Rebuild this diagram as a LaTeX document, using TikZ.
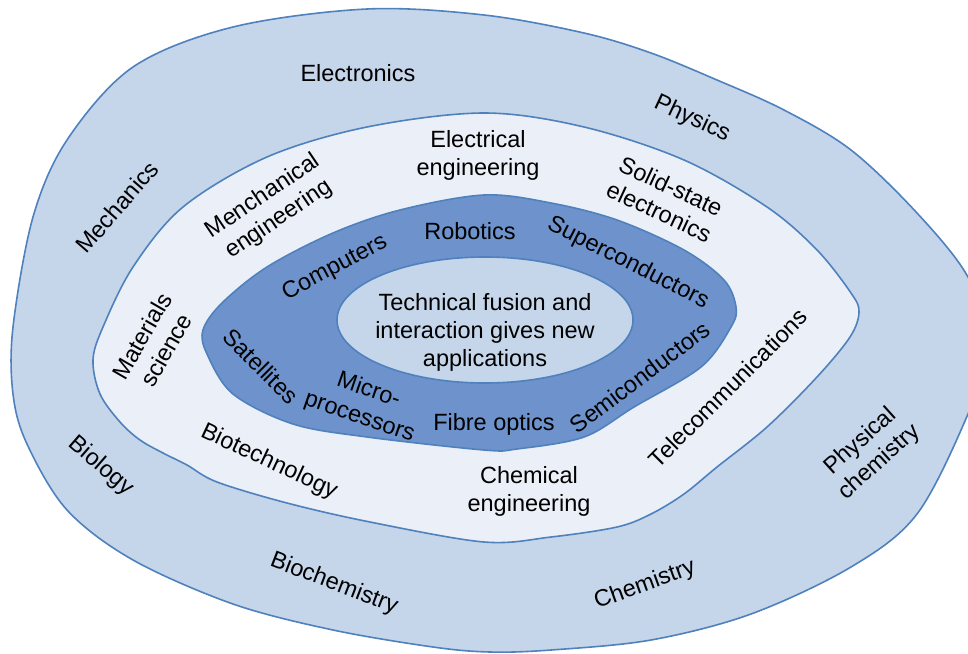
\documentclass[tikz,border=0pt]{standalone}
\usepackage{fontspec}
\setmainfont{Liberation Sans}
\usetikzlibrary{shapes.geometric}
\definecolor{outerfill}{RGB}{197,213,234}
\definecolor{midfill}{RGB}{235,240,248}
\definecolor{innerfill}{RGB}{110,147,204}
\definecolor{ellfill}{RGB}{197,213,234}
\definecolor{edge}{RGB}{79,129,189}
\newcommand\OuterPath{plot[smooth cycle, tension=0.55] coordinates {(367,9) (233,27) (133,67) (67,140) (33,217) (13,327) (13,394) (27,444) (67,510) (133,560) (233,604) (333,630) (433,647) (490,652) (551,650) (651,640) (751,614) (851,567) (917,514) (968,414) (990,345) (968,277) (917,213) (851,150) (784,110) (717,80) (651,53) (584,33) (484,15)}}
\newcommand\MidPath{plot[smooth cycle, tension=0.55] coordinates {(484,113) (367,127) (267,157) (183,207) (133,267) (103,327) (93,360) (100,394) (120,422) (140,440) (163,453) (187,465) (217,482) (287,503) (370,522) (484,542) (551,537) (617,527) (651,514) (684,494) (717,467) (767,427) (817,377) (850,337) (859,312) (851,293) (817,250) (767,207) (684,160) (584,127)}}
\newcommand\InnerPath{plot[smooth cycle, tension=0.55] coordinates {(484,195) (400,210) (333,233) (267,267) (222,303) (203,330) (207,354) (233,394) (293,424) (367,437) (484,450) (517,449) (584,437) (634,407) (701,367) (731,327) (736,307) (724,280) (684,250) (617,220) (551,203)}}
\tikzset{
  lbl/.style={font=\fontsize{23.5}{28}\selectfont, align=center, inner sep=0pt, text=black},
  edgeline/.style={draw=edge, line width=1.6pt},
}
\begin{document}
\begin{tikzpicture}[x=1pt, y=-1pt]
\useasboundingbox (0,0) rectangle (968,653);
% outer region
\fill[outerfill] \OuterPath;
\draw[edgeline] \OuterPath;
% middle region
\fill[midfill] \MidPath;
\draw[edgeline] \MidPath;
% inner ring
\fill[innerfill] \InnerPath;
\draw[edgeline] \InnerPath;
% centre ellipse
\node[ellipse, draw=edge, line width=1.6pt, fill=ellfill, minimum width=296pt, minimum height=126pt, inner sep=0pt] (core) at (485,320) {};
\node[lbl] (coretext) at (485,332) {Technical fusion and\\interaction gives new\\applications};
% outer labels
\node[lbl] (electronics) at (358,73) {Electronics};
\node[lbl, rotate=-25] (physics) at (692,119) {Physics};
\node[lbl, rotate=49] (mechanics) at (117,207) {Mechanics};
\node[lbl, rotate=-41] (biology) at (101,466) {Biology};
\node[lbl, rotate=-21] (biochem) at (334,584) {Biochemistry};
\node[lbl, rotate=20] (chemistry) at (645,585) {Chemistry};
\node[lbl, rotate=42] (physchem) at (870,452) {Physical\\chemistry};
% middle labels
\node[lbl] (eleceng) at (478,155) {Electrical\\engineering};
\node[lbl, rotate=34] (mecheng) at (271,208) {Menchanical\\engineering};
\node[lbl, rotate=-25] (solid) at (665,199) {Solid-state\\electronics};
\node[lbl, rotate=60] (materials) at (154,343) {Materials\\science};
\node[lbl, rotate=-25] (biotech) at (269,462) {Biotechnology};
\node[lbl] (chemeng) at (529,491) {Chemical\\engineering};
\node[lbl, rotate=45] (telecom) at (728,388) {Telecommunications};
% inner ring labels
\node[lbl] (robotics) at (470,231) {Robotics};
\node[lbl, rotate=28] (computers) at (335,268) {Computers};
\node[lbl, rotate=-27] (supercond) at (628,263) {Superconductors};
\node[lbl, rotate=-45] (satellites) at (261,366) {Satellites};
\node[lbl, rotate=-19] (micro) at (364,404) {Micro-\\processors};
\node[lbl] (fibre) at (494,424) {Fibre optics};
\node[lbl, rotate=37] (semicond) at (640,377) {Semiconductors};
\end{tikzpicture}
\end{document}
